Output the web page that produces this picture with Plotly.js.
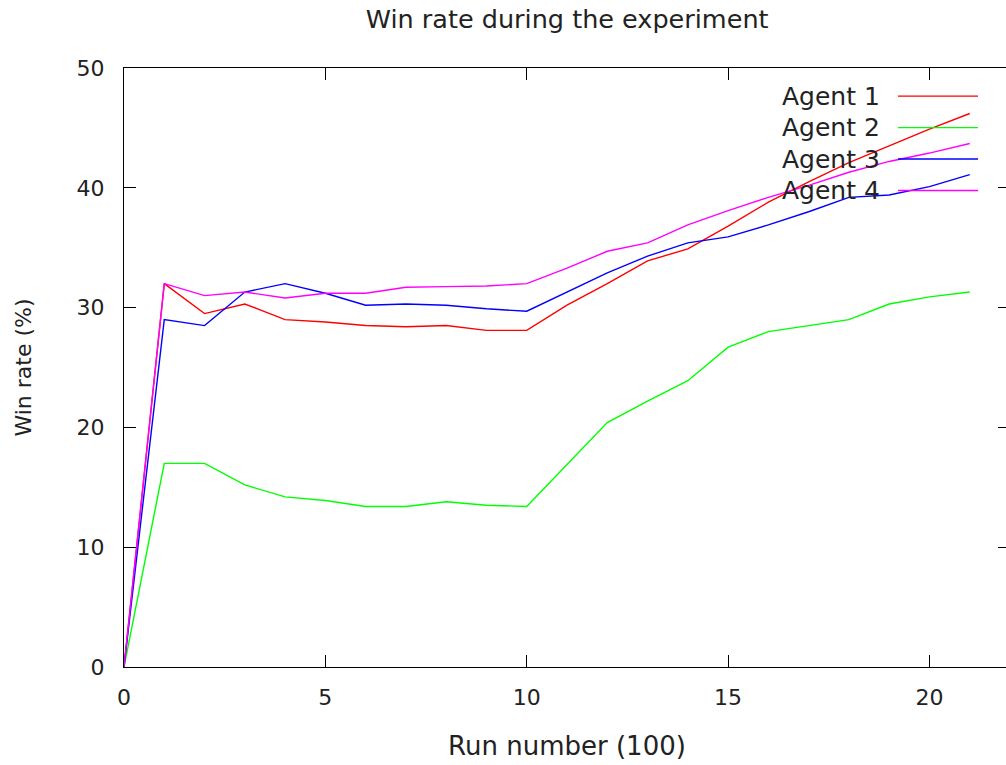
<!DOCTYPE html>
<html>
<head>
<meta charset="utf-8">
<script src="https://cdn.plot.ly/plotly-3.0.1.min.js"></script>
<style>
  html, body { margin: 0; padding: 0; background: #fff; overflow: hidden; }
  #wrap { width: 1006px; height: 765px; overflow: hidden; }
  #chart { width: 1012px; height: 765px; }
</style>
</head>
<body>
<div id="wrap"><div id="chart"></div></div>
<script>
// Run number (x100)
const runs = [0,1,2,3,4,5,6,7,8,9,10,11,12,13,14,15,16,17,18,19,20,21];

const agent1 = [0, 32.0, 29.5, 30.3, 29.0, 28.8, 28.5, 28.4, 28.5, 28.1, 28.1, 30.2, 32.0, 33.9, 34.9, 36.8, 38.8, 40.5, 42.1, 43.5, 44.9, 46.2];
const agent2 = [0, 17.0, 17.0, 15.2, 14.2, 13.9, 13.4, 13.4, 13.8, 13.5, 13.4, 16.9, 20.4, 22.2, 23.9, 26.7, 28.0, 28.5, 29.0, 30.3, 30.9, 31.3];
const agent3 = [0, 29.0, 28.5, 31.3, 32.0, 31.2, 30.2, 30.3, 30.2, 29.9, 29.7, 31.3, 32.9, 34.3, 35.4, 35.9, 36.9, 38.0, 39.2, 39.4, 40.1, 41.1];
const agent4 = [0, 32.0, 31.0, 31.3, 30.8, 31.2, 31.2, 31.7, 31.75, 31.8, 32.0, 33.3, 34.7, 35.4, 36.9, 38.1, 39.2, 40.2, 41.3, 42.2, 42.9, 43.7];

const seriesNames = ["Agent 1", "Agent 2", "Agent 3", "Agent 4"];
const seriesValues = [agent1, agent2, agent3, agent4];
const seriesColors = ["#ff0000", "#00ff00", "#0000ff", "#ff00ff"];

const xTicks = [0, 5, 10, 15, 20];
const yTicks = [0, 10, 20, 30, 40, 50];

const FONT = "DejaVu Sans, Liberation Sans, sans-serif";

const traces = seriesNames.map((name, i) => ({
  x: runs,
  y: seriesValues[i],
  name: name,
  type: "scatter",
  mode: "lines",
  line: { color: seriesColors[i], width: 1.4 },
  showlegend: false,
  hoverinfo: "x+y+name"
}));

// gnuplot-style key: text right-aligned, line sample to its right
const keyTop = 0.953, keyStep = 0.0525;
const annotations = [];
const shapes = [];
seriesNames.forEach((name, i) => {
  const yy = keyTop - i * keyStep;
  annotations.push({
    xref: "paper", yref: "paper", x: 0.8555, y: yy,
    xanchor: "right", yanchor: "middle",
    text: name, showarrow: false,
    font: { family: FONT, size: 25, color: "#222" }
  });
  shapes.push({
    type: "line", xref: "paper", yref: "paper",
    x0: 0.8736, x1: 0.9639, y0: yy, y1: yy,
    line: { color: seriesColors[i], width: 1.4 },
    layer: "above"
  });
});

const axisCommon = {
  showline: true, linecolor: "#000", linewidth: 1.3,
  mirror: "ticks", ticks: "inside", ticklen: 12, tickwidth: 1.3, tickcolor: "#000",
  showgrid: false, zeroline: false,
  tickfont: { family: FONT, size: 22, color: "#222" }
};

const layout = {
  width: 1012, height: 765,
  paper_bgcolor: "#fff", plot_bgcolor: "#fff",
  margin: { l: 124, r: 2, t: 68, b: 98 },
  title: {
    text: "Win rate during the experiment",
    font: { family: FONT, size: 25.5, color: "#222" },
    x: 0.5605, xanchor: "center", y: 0.975, yanchor: "middle"
  },
  xaxis: Object.assign({}, axisCommon, {
    range: [0, 22], tickvals: xTicks, ticktext: xTicks.map(String),
    ticklabelstandoff: 10,
    title: { text: "Run number (100)", font: { family: FONT, size: 26, color: "#222" }, standoff: 28 }
  }),
  yaxis: Object.assign({}, axisCommon, {
    range: [0, 50], tickvals: yTicks, ticktext: yTicks.map(String),
    ticklabelstandoff: 14,
    title: { text: "Win rate (%)", font: { family: FONT, size: 22, color: "#222" }, standoff: 38 }
  }),
  annotations: annotations,
  shapes: shapes,
  showlegend: false
};

Plotly.newPlot("chart", traces, layout, { displayModeBar: false, responsive: false });
</script>
</body>
</html>
